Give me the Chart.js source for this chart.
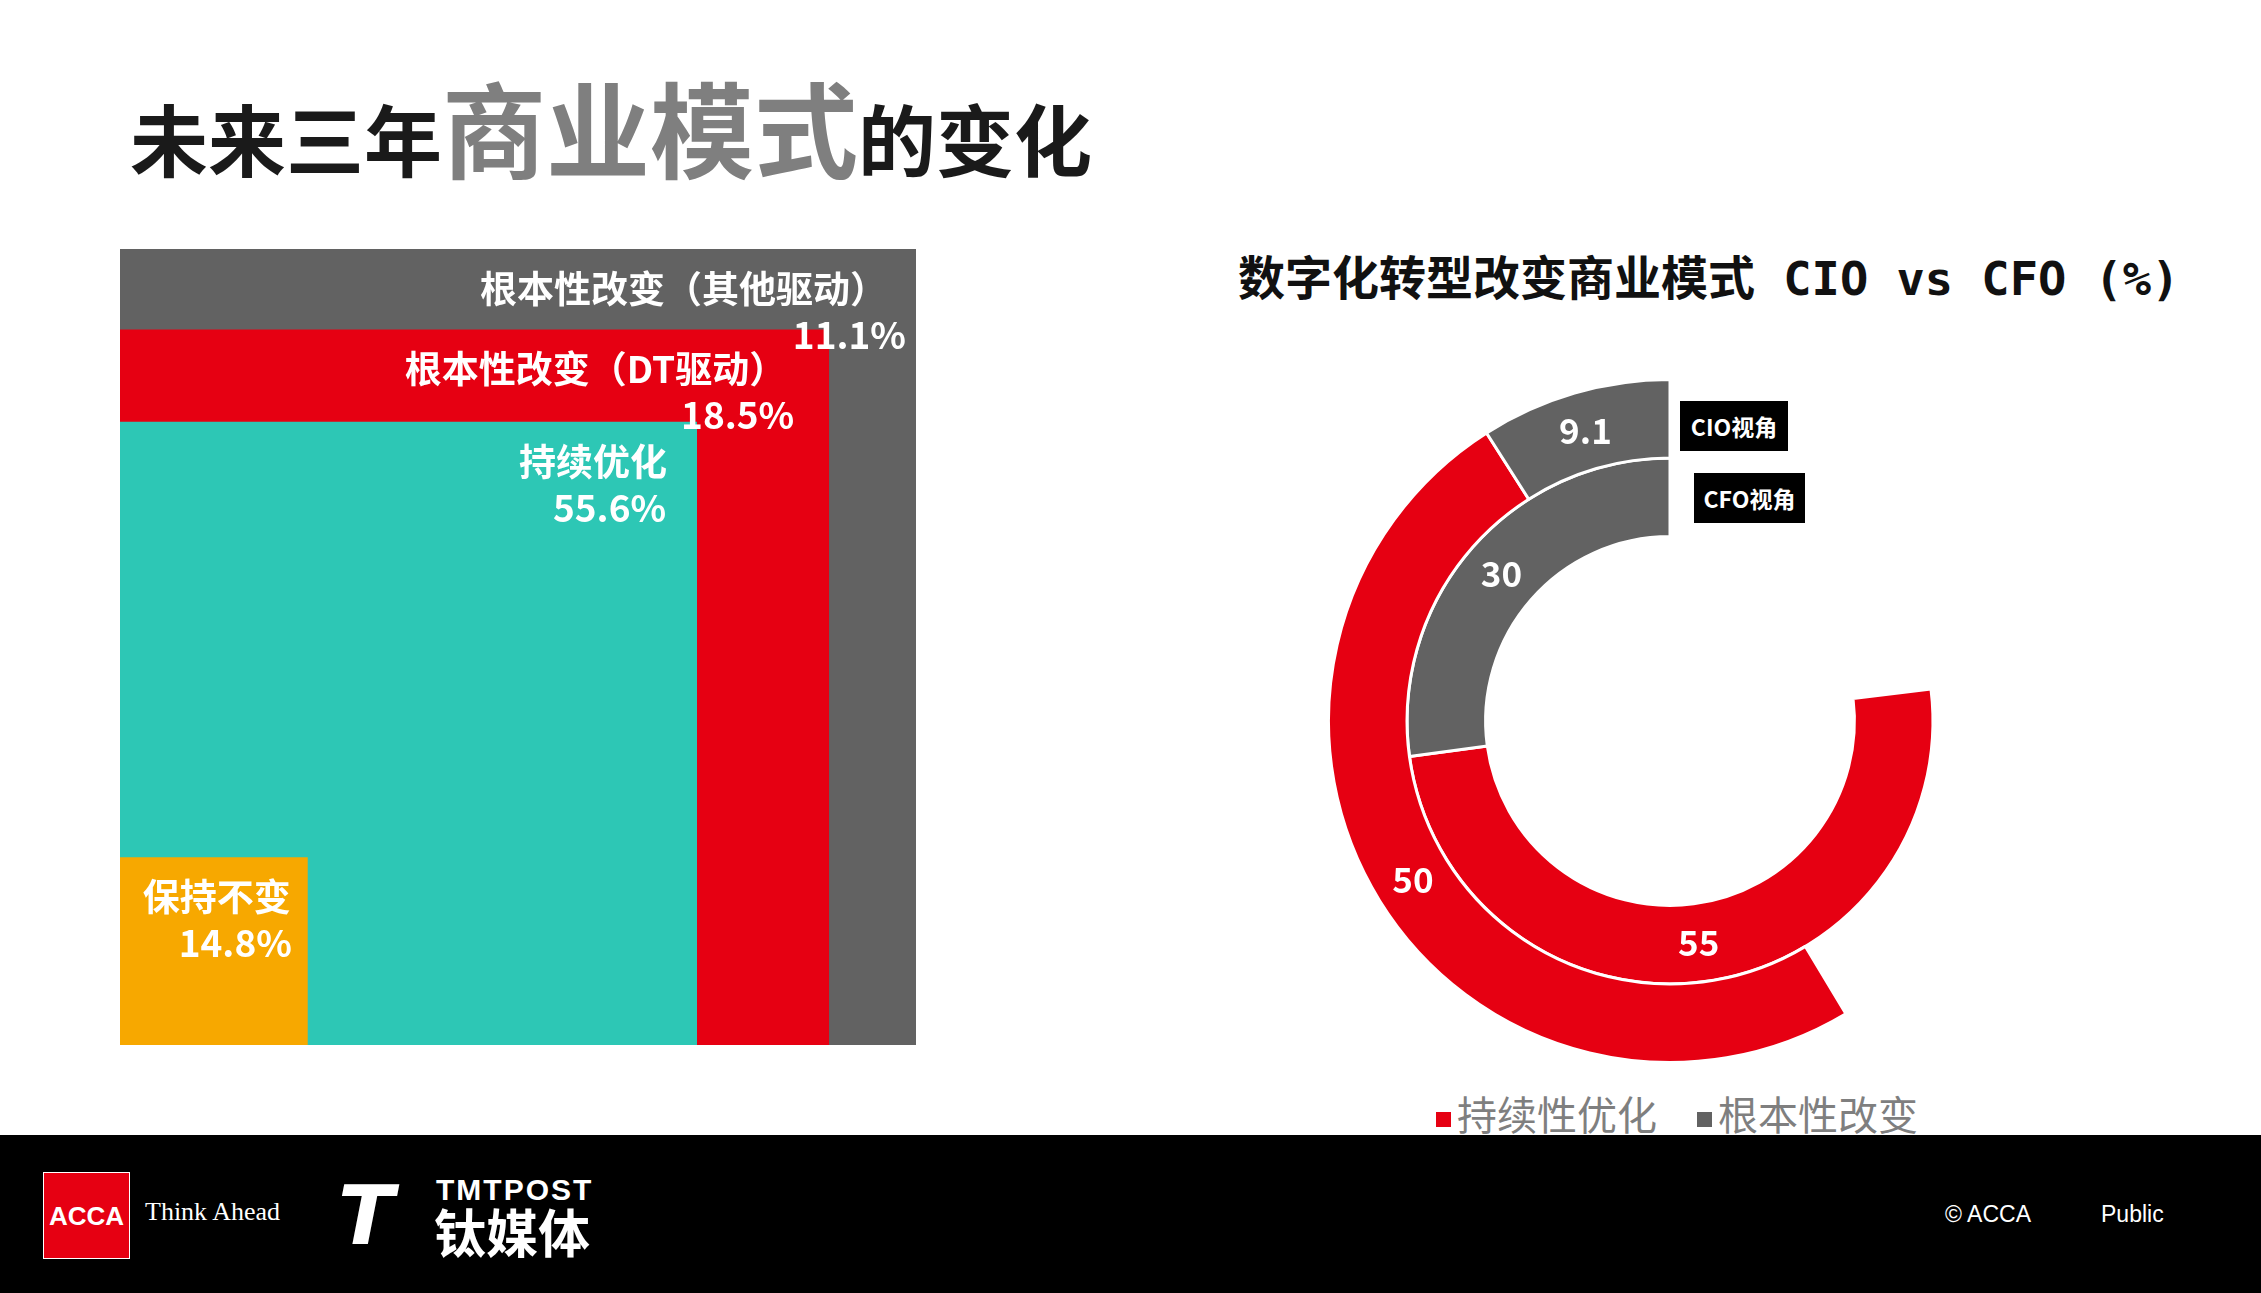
<!DOCTYPE html>
<html>
<head>
<meta charset="utf-8">
<script src="https://cdn.jsdelivr.net/npm/chart.js@4.4.0/dist/chart.umd.min.js"></script>
<style>
  body { margin: 0; width: 2261px; height: 1293px; background: #fff; position: relative; overflow: hidden;
         font-family: "Noto Sans CJK SC", "Noto Sans", sans-serif; }
  .abs { position: absolute; }
  #title { left: 130px; top: 50px; font-weight: bold; color: #1a1a1a; white-space: nowrap; }
  #title .s { font-size: 78px; }
  #title .b { font-size: 104px; color: #7f7f7f; }
  #rtitle { left: 1238px; top: 240px; font-size: 47px; font-weight: bold; color: #111; white-space: nowrap;
            font-family: "DejaVu Sans Mono", "Noto Sans CJK SC", monospace; }
  .tag { background: #000; color: #fff; font-size: 23px; font-weight: bold; text-align: center; line-height: 50px; }
  #legend { top: 1084px; left: 1436px; font-size: 40px; color: #7f7f7f; white-space: nowrap; }
  #legend span.sq { display: inline-block; width: 15px; height: 15px; margin-right: 6px; vertical-align: middle; }
  #footer { left: 0; top: 1135px; width: 2261px; height: 158px; background: #000; color: #fff; }
</style>
</head>
<body>
<div id="title" class="abs"><span class="s">未来三年</span><span class="b">商业模式</span><span class="s">的变化</span></div>

<div class="abs" style="left:120px;top:249px;width:796px;height:796px;">
  <canvas id="GraficoCuadros"></canvas>
</div>

<div id="rtitle" class="abs">数字化转型改变商业模式 CIO vs CFO (%)</div>
<div class="abs" style="left:1327px;top:378px;width:686px;height:686px;">
  <canvas id="GraficoAnillo"></canvas>
</div>
<div class="abs tag" style="left:1680px;top:401px;width:108px;">CIO视角</div>
<div class="abs tag" style="left:1694px;top:473px;width:111px;">CFO视角</div>
<div id="legend" class="abs"></div>

<div id="footer" class="abs">
  <div class="abs" style="left:43px;top:37px;width:87px;height:87px;background:#e60012;border:1px solid #fff;box-sizing:border-box;
       font:bold 26px 'Liberation Sans';line-height:87px;text-align:center;">ACCA</div>
  <div class="abs" style="left:145px;top:62px;font:26px 'Liberation Serif';">Think Ahead</div>
  <div class="abs" style="left:338px;top:40px;font:italic bold 82px 'DejaVu Sans';line-height:82px;">T</div>
  <div class="abs" style="left:436px;top:38px;font:bold 30px 'Liberation Sans';letter-spacing:2px;">TMTPOST</div>
  <div class="abs" style="left:434px;top:66px;font:bold 52px 'Noto Sans CJK SC';line-height:60px;">钛媒体</div>
  <div class="abs" style="left:1945px;top:66px;font:23px 'Liberation Sans';">© ACCA</div>
  <div class="abs" style="left:2101px;top:66px;font:23px 'Liberation Sans';">Public</div>
</div>

<script>
// ---- datos: cuadros anidados (lado en % del cuadro mayor)
var categorias = ['根本性改变（其他驱动）', '根本性改变（DT驱动）', '持续优化', '保持不变'];
var porcentajes = ['11.1%', '18.5%', '55.6%', '14.8%'];
var anchos = [100, 89.1, 72.5, 23.6];
var altos = [100, 89.9, 78.3, 23.6];
var coloresCuadros = ['#626262', '#e60012', '#2dc7b5', '#f7a800'];

// ---- datos: anillos CIO / CFO
var etiquetasAnillo = ['持续性优化', '根本性改变'];
var valoresCIO = [50, 9.1];
var valoresCFO = [55, 30];
var coloresAnillo = ['#e60012', '#626262'];

// ---- grafico de cuadros
var ctx1 = document.getElementById('GraficoCuadros').getContext('2d');
var datasetsCuadros = categorias.map(function(c, i) {
  return {
    label: c,
    data: [{x: 0, y: altos[i]}, {x: anchos[i], y: altos[i]}],
    showLine: true, fill: 'origin', pointRadius: 0, borderWidth: 0,
    backgroundColor: coloresCuadros[i], borderColor: coloresCuadros[i],
    order: categorias.length - i
  };
});
var etiquetasCuadros = {
  id: 'etiquetasCuadros',
  afterDatasetsDraw: function(chart) {
    var c = chart.ctx, xs = chart.scales.x, ys = chart.scales.y;
    c.save();
    c.fillStyle = '#fff';
    c.font = 'bold 37px "Noto Sans CJK SC"';
    c.textBaseline = 'middle';
    c.textAlign = 'right';
    var offs = [[-29, -10], [-43, -35], [-30, -31], [-17, -16]];
    for (var i = 0; i < categorias.length; i++) {
      var x = xs.getPixelForValue(anchos[i]);
      var y = ys.getPixelForValue(altos[i]);
      c.fillText(categorias[i], x + offs[i][0], y + 40);
      c.fillText(porcentajes[i], x + offs[i][1], y + 86);
    }
    c.restore();
  }
};
new Chart(ctx1, {
  type: 'scatter',
  data: { datasets: datasetsCuadros },
  options: {
    responsive: true, maintainAspectRatio: false, animation: false,
    layout: { padding: 0 },
    plugins: { legend: { display: false }, tooltip: { enabled: false } },
    scales: {
      x: { type: 'linear', min: 0, max: 100, display: false },
      y: { type: 'linear', min: 0, max: 100, display: false }
    }
  },
  plugins: [etiquetasCuadros]
});

// ---- grafico de anillos
var ctx2 = document.getElementById('GraficoAnillo').getContext('2d');
var etiquetasArcos = {
  id: 'etiquetasArcos',
  afterDatasetsDraw: function(chart) {
    var c = chart.ctx;
    c.save();
    c.fillStyle = '#fff';
    c.font = 'bold 35px "Noto Sans CJK SC"';
    c.textAlign = 'center';
    c.textBaseline = 'middle';
    chart.data.datasets.forEach(function(ds, di) {
      chart.getDatasetMeta(di).data.forEach(function(arc, i) {
        var p = arc.tooltipPosition();
        c.fillText(String(ds.data[i]), p.x, p.y);
      });
    });
    c.restore();
  }
};
new Chart(ctx2, {
  type: 'doughnut',
  data: {
    labels: etiquetasAnillo,
    datasets: [
      { label: 'CIO视角', data: valoresCIO, backgroundColor: coloresAnillo, borderColor: '#fff', borderWidth: 3,
        rotation: 149, circumference: 211 },
      { label: 'CFO视角', data: valoresCFO, backgroundColor: coloresAnillo, borderColor: '#fff', borderWidth: 3,
        rotation: 83, circumference: 277 }
    ]
  },
  options: {
    responsive: true, maintainAspectRatio: false, animation: false,
    cutout: '54%',
    layout: { padding: 0 },
    plugins: { legend: { display: false }, tooltip: { enabled: false } }
  },
  plugins: [etiquetasArcos]
});

// ---- leyenda
document.getElementById('legend').innerHTML = etiquetasAnillo.map(function(l, i) {
  return '<span style="margin-right:40px"><span class="sq" style="background:' + coloresAnillo[i] + '"></span>' + l + '</span>';
}).join('');
</script>
</body>
</html>
